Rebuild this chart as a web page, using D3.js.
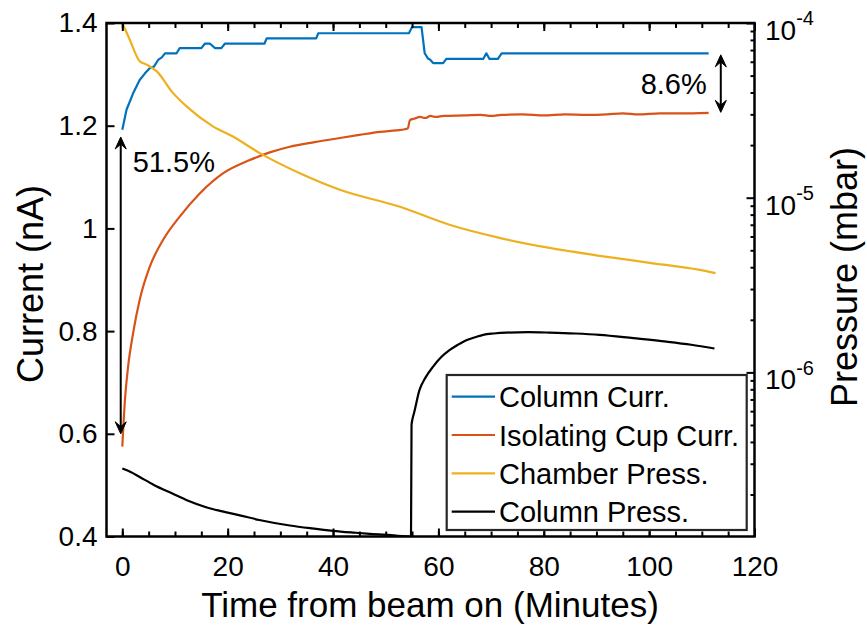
<!DOCTYPE html>
<html>
<head>
<meta charset="utf-8">
<script src="https://cdn.jsdelivr.net/npm/d3@7"></script>
<style>
  body { margin: 0; background: #fff; }
  text { font-family: "Liberation Sans", Arial, sans-serif; fill: #000; }
</style>
</head>
<body>
<svg id="chart" width="867" height="626"></svg>
<script>
// ---- axis ticks ----
const xTicks = [0, 20, 40, 60, 80, 100, 120];
const xMinorTicks = d3.range(0, 121, 5);
const currentTicks = [0.4, 0.6, 0.8, 1.0, 1.2, 1.4];
const pressureTicks = [1e-6, 1e-5, 1e-4];
const pressureMinorTicks = [1e-7, 1e-6, 1e-5]
  .flatMap(dec => d3.range(2, 10).map(k => k * dec))
  .filter(v => v >= 1.15e-7);

// ---- series (time in minutes) ----
const seriesNames = ["Column Curr.", "Isolating Cup Curr.", "Chamber Press.", "Column Press."];
const seriesColors = ["#0072BD", "#D95319", "#EDB120", "#000000"];

// Column current (nA)
const columnCurrTime  = [0, 0.8, 2.05, 3.3, 4.3, 5.2, 6.0, 6.8, 7.5, 8.1, 10.3, 10.9, 15.0, 15.7, 16.6, 17.6, 18.8, 19.5, 27.0, 27.4, 36.8, 37.2, 54.4, 55.0, 56.8, 57.4, 58.0, 58.4, 59.0, 60.9, 61.5, 68.5, 69.1, 69.7, 71.3, 72.0, 111.3];
const columnCurrValue = [1.192, 1.231, 1.263, 1.289, 1.302, 1.312, 1.315, 1.328, 1.333, 1.341, 1.341, 1.351, 1.351, 1.360, 1.360, 1.351, 1.351, 1.360, 1.360, 1.370, 1.370, 1.380, 1.380, 1.392, 1.392, 1.341, 1.331, 1.329, 1.322, 1.322, 1.330, 1.330, 1.341, 1.330, 1.330, 1.341, 1.341];

// Isolating cup current (nA)
const cupCurrTime  = [0, 0.5, 1.1, 2.05, 3.3, 5.2, 7.7, 10.9, 14.7, 19.1, 24.2, 28, 31.8, 36.5, 41.3, 45, 48.9, 52, 53.6, 54.2, 54.6, 55.5, 56.5, 57.5, 58.5, 59.5, 61, 65, 68, 70, 72, 76, 80, 84, 88, 92, 95, 98, 102, 106, 111.3];
const cupCurrValue = [0.575, 0.666, 0.731, 0.796, 0.861, 0.925, 0.977, 1.023, 1.068, 1.107, 1.133, 1.148, 1.159, 1.168, 1.176, 1.182, 1.188, 1.191, 1.193, 1.195, 1.211, 1.214, 1.217, 1.215, 1.219, 1.217, 1.219, 1.220, 1.221, 1.219, 1.221, 1.222, 1.220, 1.222, 1.221, 1.222, 1.224, 1.222, 1.224, 1.224, 1.225];

// Chamber pressure (mbar)
const chamberPressTime  = [0, 1.4, 3.3, 4.6, 6.5, 9.6, 12.2, 17.2, 21.0, 26.1, 33.7, 41.3, 52.7, 62.1, 71.6, 81.1, 90.6, 100.1, 109.6, 112.6];
const chamberPressValue = [1.0e-4, 8.04e-5, 6.04e-5, 5.78e-5, 5.30e-5, 3.98e-5, 3.33e-5, 2.56e-5, 2.24e-5, 1.80e-5, 1.38e-5, 1.11e-5, 8.87e-6, 7.00e-6, 5.89e-6, 5.16e-6, 4.65e-6, 4.24e-6, 3.86e-6, 3.70e-6];

// Column pressure (mbar)
const columnPressTime  = [0, 1.5, 3.3, 6, 9.6, 12.5, 15.9, 19, 22.3, 26, 31.8, 36, 40, 44, 47, 51, 54.8, 54.9, 55.1, 55.4, 56.4, 57.6, 59.0, 60.5, 62.1, 63.7, 65.3, 67, 68.5, 70.5, 72.9, 77, 81.1, 86, 90.6, 97, 103.3, 108, 112.4];
const columnPressValue = [2.82e-7, 2.70e-7, 2.52e-7, 2.27e-7, 2.02e-7, 1.84e-7, 1.69e-7, 1.60e-7, 1.52e-7, 1.43e-7, 1.33e-7, 1.28e-7, 1.24e-7, 1.21e-7, 1.19e-7, 1.17e-7, 1.15e-7, 5.0e-7, 5.44e-7, 5.9e-7, 7.91e-7, 9.4e-7, 1.08e-6, 1.22e-6, 1.34e-6, 1.44e-6, 1.53e-6, 1.59e-6, 1.64e-6, 1.67e-6, 1.69e-6, 1.70e-6, 1.69e-6, 1.67e-6, 1.64e-6, 1.57e-6, 1.50e-6, 1.44e-6, 1.37e-6];

// Relative drop annotations (current axis)
const dropLabels = ["51.5%", "8.6%"];
const dropTime   = [-0.3, 113.6];
const dropLow    = [0.600, 1.226];
const dropHigh   = [1.178, 1.338];

// ---- layout ----
const svg = d3.select("#chart");
const plot = { left: 106.5, right: 754.5, top: 23, bottom: 536.5 };
const FONT = '"Liberation Sans", Arial, sans-serif';

const x = d3.scaleLinear().domain([-3, 120]).range([plot.left, plot.right]);
const yL = d3.scaleLinear().domain([0.4, 1.4]).range([plot.bottom, plot.top]);
const yR = d3.scaleLog().domain([1.15e-7, 1e-4]).range([plot.bottom, plot.top]);

svg.append("defs").append("clipPath").attr("id", "plotClip")
  .append("rect")
  .attr("x", plot.left).attr("y", plot.top - 1)
  .attr("width", plot.right - plot.left).attr("height", plot.bottom - plot.top + 1);

const zip = (t, v) => t.map((d, i) => [d, v[i]]);
const lineStep = d3.line().x(d => x(d[0])).y(d => yL(d[1]));
const lineL = d3.line().x(d => x(d[0])).y(d => yL(d[1])).curve(d3.curveMonotoneX);
const lineR = d3.line().x(d => x(d[0])).y(d => yR(d[1])).curve(d3.curveMonotoneX);

const series = [
  { data: zip(columnCurrTime, columnCurrValue), gen: lineStep, color: seriesColors[0] },
  { data: zip(cupCurrTime, cupCurrValue), gen: lineL, color: seriesColors[1] },
  { data: zip(chamberPressTime, chamberPressValue), gen: lineR, color: seriesColors[2] },
  { data: zip(columnPressTime, columnPressValue), gen: lineR, color: seriesColors[3] }
];

const lines = svg.append("g").attr("clip-path", "url(#plotClip)");
series.forEach(s => {
  lines.append("path")
    .attr("d", s.gen(s.data))
    .attr("fill", "none")
    .attr("stroke", s.color)
    .attr("stroke-width", 2.2)
    .attr("stroke-linejoin", "round");
});

// ---- axes ----
function styleAxis(g, size) {
  g.select(".domain").remove();
  g.selectAll(".tick line").attr("stroke", "#000").attr("stroke-width", 2);
  g.selectAll(".tick text").attr("font-size", size).attr("font-family", FONT).attr("fill", "#000");
  g.attr("font-family", FONT);
}

// bottom
svg.append("g").attr("transform", `translate(0,${plot.bottom})`)
  .call(d3.axisBottom(x).tickValues(xMinorTicks).tickSizeInner(-5).tickSizeOuter(0).tickFormat(""))
  .call(g => styleAxis(g, 28));
svg.append("g").attr("transform", `translate(0,${plot.bottom})`)
  .call(d3.axisBottom(x).tickValues(xTicks).tickSizeInner(-8).tickSizeOuter(0).tickPadding(20).tickFormat(d3.format("d")))
  .call(g => styleAxis(g, 28));
// top
svg.append("g").attr("transform", `translate(0,${plot.top})`)
  .call(d3.axisTop(x).tickValues(xMinorTicks).tickSizeInner(-5).tickSizeOuter(0).tickFormat(""))
  .call(g => styleAxis(g, 28));
svg.append("g").attr("transform", `translate(0,${plot.top})`)
  .call(d3.axisTop(x).tickValues(xTicks).tickSizeInner(-8).tickSizeOuter(0).tickFormat(""))
  .call(g => styleAxis(g, 28));

// left (current)
svg.append("g").attr("transform", `translate(${plot.left},0)`)
  .call(d3.axisLeft(yL).tickValues(currentTicks).tickSizeInner(-8).tickSizeOuter(0).tickPadding(9)
    .tickFormat(d => Math.abs(d - 1) < 1e-9 ? "1" : d3.format(".1f")(d)))
  .call(g => styleAxis(g, 28));

// right (pressure, log)
svg.append("g").attr("transform", `translate(${plot.right},0)`)
  .call(d3.axisRight(yR).tickValues(pressureMinorTicks).tickSizeInner(-4).tickSizeOuter(0).tickFormat(""))
  .call(g => styleAxis(g, 28));
const rightAxis = svg.append("g").attr("transform", `translate(${plot.right},0)`)
  .call(d3.axisRight(yR).tickValues(pressureTicks).tickSizeInner(-8).tickSizeOuter(0).tickPadding(10.5))
  .call(g => styleAxis(g, 28));
rightAxis.selectAll(".tick text").each(function(d) {
  const t = d3.select(this);
  t.text(null).attr("dy", null).attr("y", 16.5);
  t.append("tspan").text("10");
  t.append("tspan").attr("dy", -14.7).attr("font-size", 20).text(String(Math.round(Math.log10(d))));
});

// frame
svg.append("rect")
  .attr("x", plot.left).attr("y", plot.top)
  .attr("width", plot.right - plot.left).attr("height", plot.bottom - plot.top)
  .attr("fill", "none").attr("stroke", "#000").attr("stroke-width", 2.5);

// axis titles
svg.append("text")
  .attr("x", (plot.left + plot.right) / 2 - 0.5).attr("y", 617)
  .attr("text-anchor", "middle").attr("font-size", 35)
  .text("Time from beam on (Minutes)");
svg.append("text")
  .attr("transform", `translate(43,284) rotate(-90)`)
  .attr("text-anchor", "middle").attr("font-size", 36)
  .text("Current (nA)");
svg.append("text")
  .attr("transform", `translate(857,277) rotate(-90)`)
  .attr("text-anchor", "middle").attr("font-size", 36)
  .text("Pressure (mbar)");

// ---- drop annotations (double arrows) ----
function arrowHead(g, tipX, tipY, dir) {
  // dir = -1 pointing up, +1 pointing down
  const L = 12, W = 11, notch = 0.6;
  const p = d3.path();
  p.moveTo(tipX, tipY);
  p.lineTo(tipX - W / 2, tipY - dir * L);
  p.lineTo(tipX, tipY - dir * L * notch);
  p.lineTo(tipX + W / 2, tipY - dir * L);
  p.closePath();
  g.append("path").attr("d", p.toString()).attr("fill", "#000").attr("stroke", "#000").attr("stroke-width", 1);
}
const ann = svg.append("g");
dropLabels.forEach((label, i) => {
  const ax = x(dropTime[i]);
  const yTop = yL(dropHigh[i]);
  const yBot = yL(dropLow[i]);
  ann.append("line")
    .attr("x1", ax).attr("x2", ax)
    .attr("y1", yTop + 6).attr("y2", yBot - 6)
    .attr("stroke", "#000").attr("stroke-width", 2);
  arrowHead(ann, ax, yTop, -1);
  arrowHead(ann, ax, yBot, 1);
  if (i === 0) {
    ann.append("text").attr("x", ax + 12).attr("y", yTop + 35)
      .attr("font-size", 29).text(label);
  } else {
    ann.append("text").attr("x", ax - 14).attr("y", (yTop + yBot) / 2 + 10)
      .attr("font-size", 29).attr("text-anchor", "end").text(label);
  }
});

// ---- legend ----
const legend = svg.append("g").attr("transform", "translate(446.7,375)");
legend.append("rect")
  .attr("width", 300).attr("height", 155)
  .attr("fill", "#fff").attr("stroke", "#262626").attr("stroke-width", 2.2);
seriesNames.forEach((name, i) => {
  const ly = 21.7 + i * 38.3;
  legend.append("line")
    .attr("x1", 5).attr("x2", 48.3).attr("y1", ly).attr("y2", ly)
    .attr("stroke", seriesColors[i]).attr("stroke-width", 2.2);
  legend.append("text")
    .attr("x", 52.3).attr("y", ly + 10.5)
    .attr("font-size", 29).text(name);
});
</script>
</body>
</html>
